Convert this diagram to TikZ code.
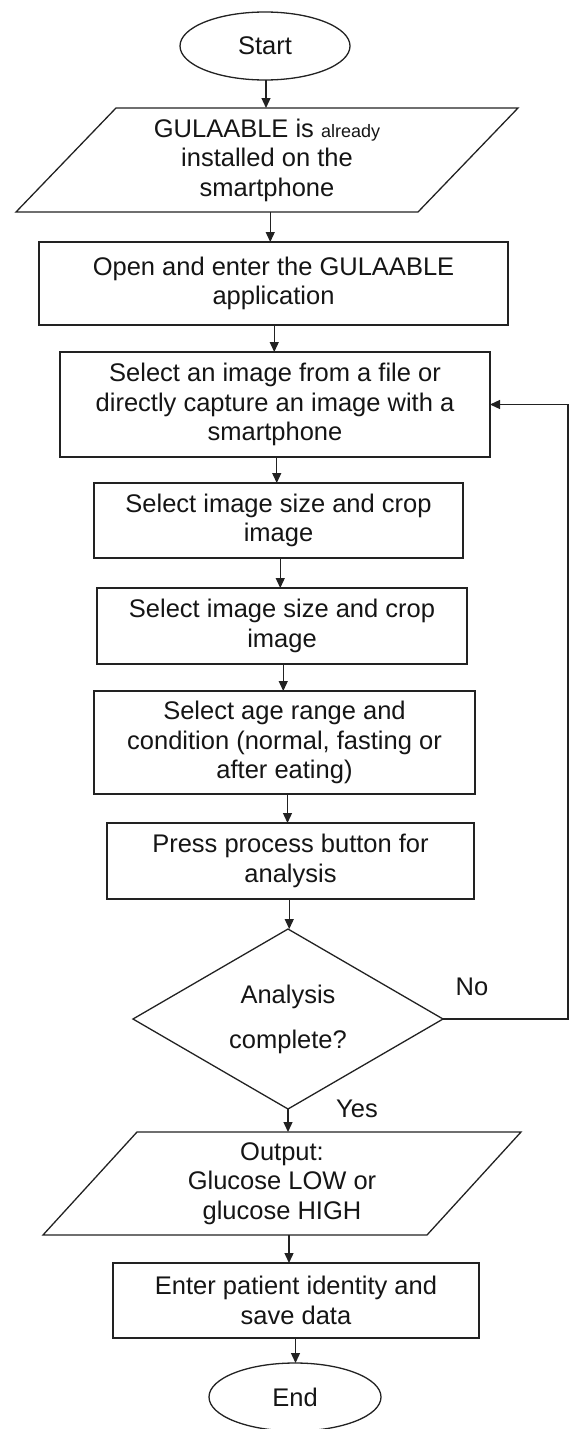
\documentclass[tikz,border=0pt]{standalone}
\usepackage{fontspec}
\setmainfont{Liberation Sans}
\usetikzlibrary{shapes.geometric,arrows.meta,calc}
\definecolor{lineC}{HTML}{222222}
\definecolor{txtC}{HTML}{151515}
\newcommand{\vlink}[2]{%
  \path ($(#1.south)!0.5!(#2.north)$) coordinate (midpt);
  \draw[arr] (midpt |- #1.south) -- (midpt |- #2.north);}
\begin{document}
\begin{tikzpicture}[x=1pt,y=-1pt,
  txt/.style={text=txtC, font=\fontsize{25.5}{29.5}\selectfont, align=center, inner sep=0pt, outer sep=0pt},
  procbox/.style={txt, draw=lineC, line width=1.3pt, rectangle},
  term/.style={txt, draw=lineC, line width=1.3pt, ellipse},
  iobox/.style={txt, rectangle},
  decision/.style={draw=lineC, line width=1.3pt, diamond, inner sep=0pt, outer sep=0pt},
  edgeline/.style={draw=lineC, line width=1.3pt, line join=miter},
  arr/.style={draw=lineC, line width=1.3pt, -{Triangle[length=10pt,width=9pt]}}
]
\useasboundingbox (0,0) rectangle (570,1429);

\node[term, minimum width=170pt, minimum height=68pt] (start) at (265,46) {Start};

\node[iobox, minimum width=402pt, minimum height=104pt] (p1) at (267,160)
  {GULAABLE is {\fontsize{18}{20}\selectfont already}\\installed on the\\smartphone};
\draw[edgeline] ([xshift=50pt]p1.north west) -- ([xshift=50pt]p1.north east)
  -- ([xshift=-50pt]p1.south east) -- ([xshift=-50pt]p1.south west) -- cycle;

\node[procbox, minimum width=469pt, minimum height=83pt] (b1) at (273.5,283.5)
  {Open and enter the GULAABLE\\application};
\node[procbox, minimum width=430pt, minimum height=105pt] (b2) at (275,404.5)
  {Select an image from a file or\\directly capture an image with a\\smartphone};
\node[procbox, minimum width=369pt, minimum height=75pt] (b3) at (278.5,520.5)
  {Select image size and crop\\image};
\node[procbox, minimum width=370pt, minimum height=76pt] (b4) at (282,626)
  {Select image size and crop\\image};
\node[procbox, minimum width=381pt, minimum height=103pt] (b5) at (284.5,742.5)
  {Select age range and\\condition (normal, fasting or\\after eating)};
\node[procbox, minimum width=367pt, minimum height=76pt] (b6) at (290.5,861)
  {Press process button for\\analysis};

\node[decision, minimum width=310pt, minimum height=180pt] (dec) at (288,1019) {};
\node[txt] (dtext) at (dec.center) {Analysis\\[15.5pt]complete?};

\node[iobox, minimum width=384pt, minimum height=103pt] (out) at (282,1183.5)
  {Output:\\Glucose LOW or\\glucose HIGH};
\draw[edgeline] ([xshift=47pt]out.north west) -- ([xshift=47pt]out.north east)
  -- ([xshift=-47pt]out.south east) -- ([xshift=-47pt]out.south west) -- cycle;

\node[procbox, minimum width=366pt, minimum height=75pt] (b7) at (296,1300.5)
  {Enter patient identity and\\save data};
\node[term, minimum width=172pt, minimum height=68pt] (end) at (295,1397) {End};

\node[txt] (no) at (472,987) {No};
\node[txt] (yes) at (357,1109) {Yes};

\vlink{start}{p1}
\vlink{p1}{b1}
\vlink{b1}{b2}
\vlink{b2}{b3}
\vlink{b3}{b4}
\vlink{b4}{b5}
\vlink{b5}{b6}
\vlink{b6}{dec}
\draw[arr] (dec.south) -- (dec.south |- out.north);
\vlink{out}{b7}
\vlink{b7}{end}

\coordinate (loopx) at (568,1019);
\draw[arr, line join=miter] (dec.east) -- (loopx) -- (loopx |- b2.east) -- (b2.east);
\end{tikzpicture}
\end{document}
